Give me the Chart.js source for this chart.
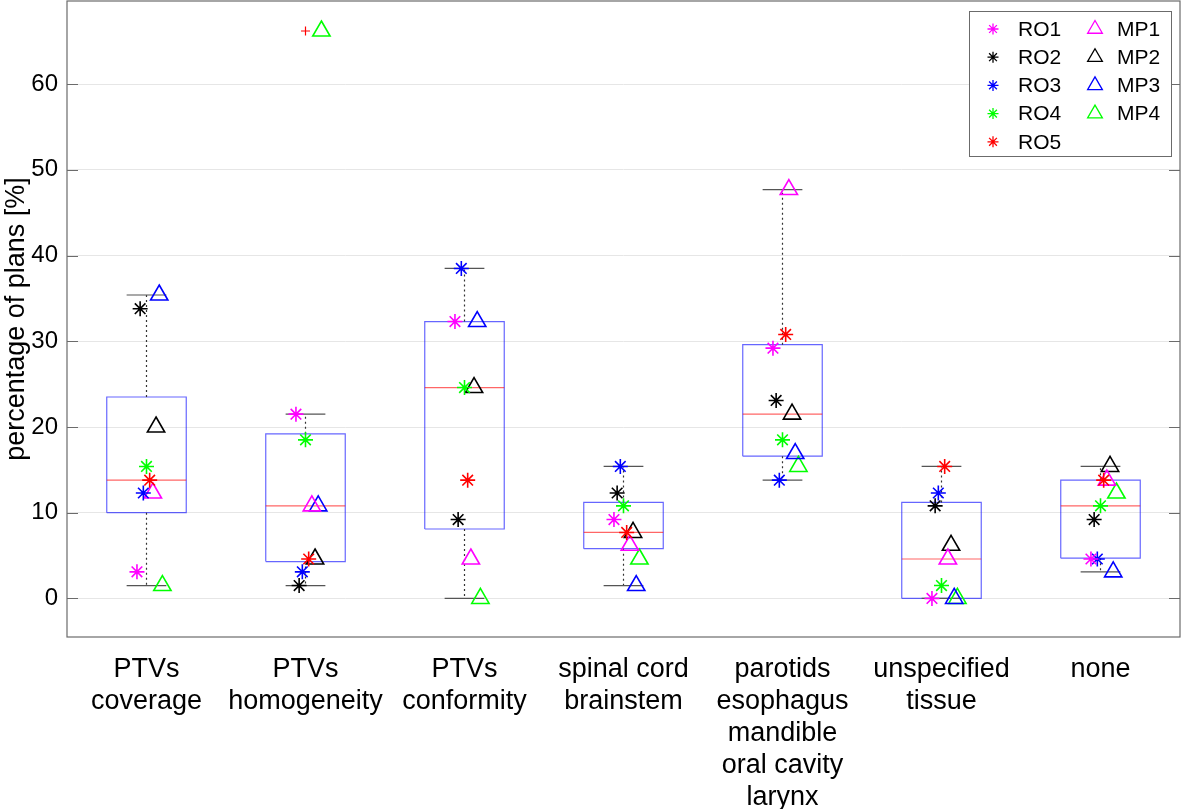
<!DOCTYPE html>
<html>
<head>
<meta charset="utf-8">
<script src="https://cdn.jsdelivr.net/npm/chart.js@4.4.1/dist/chart.umd.min.js"></script>
<style>
  html, body { margin: 0; padding: 0; background: #fff; }
  #wrap { width: 1181px; height: 809px; position: relative; }
</style>
</head>
<body>
<div id="wrap"><canvas id="planChart"></canvas></div>
<script>
// categories (multi-line tick labels)
const categories = [
    ['PTVs', 'coverage'],
    ['PTVs', 'homogeneity'],
    ['PTVs', 'conformity'],
    ['spinal cord', 'brainstem'],
    ['parotids', 'esophagus', 'mandible', 'oral cavity', 'larynx'],
    ['unspecified', 'tissue'],
    ['none']
];
const yTicks = [0, 10, 20, 30, 40, 50, 60];

// percentage of plans per observer, one value per category
const RO1 = [3.1, 21.5, 32.3, 9.2, 29.2, 0.0, 4.6];
const RO2 = [33.8, 1.5, 9.2, 12.3, 23.1, 10.8, 9.2];
const RO3 = [12.3, 3.1, 38.5, 15.4, 13.8, 12.3, 4.6];
const RO4 = [15.4, 18.5, 24.6, 10.8, 18.5, 1.5, 10.8];
const RO5 = [13.8, 4.6, 13.8, 7.7, 30.8, 15.4, 13.8];
const MP1 = [12.3, 10.8, 4.6, 6.2, 47.7, 4.6, 13.8];
const MP2 = [20.0, 4.6, 24.6, 7.7, 21.5, 6.2, 15.4];
const MP3 = [35.4, 10.8, 32.3, 1.5, 16.9, 0.0, 3.1];
const MP4 = [1.5, 66.2, 0.0, 4.6, 15.4, 0.0, 12.3];

// box plot statistics per category
const boxQ1 = [10.0, 4.3, 8.1, 5.8, 16.6, 0.0, 4.7];
const boxMedian = [13.8, 10.8, 24.6, 7.7, 21.5, 4.6, 10.8];
const boxQ3 = [23.5, 19.2, 32.3, 11.2, 29.6, 11.2, 13.8];
const whiskerLow = [1.5, 1.5, 0.0, 1.5, 13.8, 0.0, 3.1];
const whiskerHigh = [35.4, 21.5, 38.5, 15.4, 47.7, 15.4, 15.4];
const outlierCat = [2];
const outlierVal = [66.2];

const FONT = '"Liberation Sans", Arial, Helvetica, sans-serif';
Chart.defaults.font.family = FONT;
Chart.defaults.color = '#000';

// series setup: name, values, colour, marker, x jitter
const series = [
    ['RO1', RO1, '#ff00ff', 'star', -0.06],
    ['RO2', RO2, '#000000', 'star', -0.04],
    ['RO3', RO3, '#0000ff', 'star', -0.02],
    ['RO4', RO4, '#00ff00', 'star', 0.00],
    ['RO5', RO5, '#ff0000', 'star', 0.02],
    ['MP1', MP1, '#ff00ff', 'triangle', 0.04],
    ['MP2', MP2, '#000000', 'triangle', 0.06],
    ['MP3', MP3, '#0000ff', 'triangle', 0.08],
    ['MP4', MP4, '#00ff00', 'triangle', 0.10]
];

const pointSets = series.map(([name, vals, color, marker, dx]) => ({
    label: name,
    data: vals.map((v, i) => ({ x: i + 1 + dx, y: v })),
    pointStyle: marker,
    pointRadius: marker === 'star' ? 7.5 : 10,
    pointBorderWidth: 1.6,
    borderColor: color,
    pointBorderColor: color,
    backgroundColor: 'rgba(0,0,0,0)',
    pointBackgroundColor: 'rgba(0,0,0,0)',
    showLine: false
}));

// helpers to build line segments from the box statistics
const gap = i => ({ x: i, y: null });
const boxPath = [], medianPath = [], whiskerPath = [], capPath = [];
categories.forEach((c, k) => {
    const i = k + 1;
    boxPath.push({ x: i - 0.25, y: boxQ1[k] }, { x: i + 0.25, y: boxQ1[k] },
        { x: i + 0.25, y: boxQ3[k] }, { x: i - 0.25, y: boxQ3[k] },
        { x: i - 0.25, y: boxQ1[k] }, gap(i));
    medianPath.push({ x: i - 0.25, y: boxMedian[k] }, { x: i + 0.25, y: boxMedian[k] }, gap(i));
    whiskerPath.push({ x: i, y: boxQ3[k] }, { x: i, y: whiskerHigh[k] }, gap(i),
        { x: i, y: boxQ1[k] }, { x: i, y: whiskerLow[k] }, gap(i));
    capPath.push({ x: i - 0.125, y: whiskerHigh[k] }, { x: i + 0.125, y: whiskerHigh[k] }, gap(i),
        { x: i - 0.125, y: whiskerLow[k] }, { x: i + 0.125, y: whiskerLow[k] }, gap(i));
});

const lineSet = (data, color, dash) => ({
    data: data,
    showLine: true,
    spanGaps: false,
    borderColor: color,
    borderWidth: 1.2,
    borderDash: dash || [],
    pointRadius: 0,
    pointHoverRadius: 0,
    fill: false
});

const outlierSet = {
    data: outlierCat.map((c, k) => ({ x: c, y: outlierVal[k] })),
    pointStyle: 'cross',
    pointRadius: 4.5,
    pointBorderWidth: 1.2,
    pointBorderColor: '#ff0000',
    showLine: false
};

// frame around the plot with inward ticks
const framePlugin = {
    id: 'frame',
    afterDraw(chart) {
        const { ctx, chartArea: a, scales } = chart;
        ctx.save();
        ctx.strokeStyle = '#6b6b6b';
        ctx.lineWidth = 1.2;
        ctx.strokeRect(a.left, a.top, a.right - a.left, a.bottom - a.top);
        ctx.beginPath();
        yTicks.forEach(v => {
            const y = Math.round(scales.y.getPixelForValue(v)) + 0.5;
            ctx.moveTo(a.left, y); ctx.lineTo(a.left + 11, y);
            ctx.moveTo(a.right, y); ctx.lineTo(a.right - 11, y);
        });
        ctx.stroke();
        ctx.restore();
    }
};

// two-column legend box in the top-right corner
const legendPlugin = {
    id: 'boxLegend',
    afterDraw(chart) {
        const { ctx, chartArea: a } = chart;
        const left = a.right - 211, top = a.top + 10;
        ctx.save();
        ctx.fillStyle = '#fff';
        ctx.fillRect(left, top, 202, 145);
        ctx.strokeStyle = '#6b6b6b';
        ctx.lineWidth = 1;
        ctx.strokeRect(left + 0.5, top + 0.5, 202, 145);
        ctx.font = '21px ' + FONT;
        ctx.textBaseline = 'middle';
        series.forEach(([name, vals, color, marker], k) => {
            const col = k < 5 ? 0 : 1;
            const row = k < 5 ? k : k - 5;
            const mx = left + (col ? 126 : 24);
            const my = top + 18 + row * 28.2;
            ctx.strokeStyle = color;
            ctx.lineWidth = 1.3;
            ctx.beginPath();
            if (marker === 'star') {
                const r = 5.5;
                ctx.moveTo(mx - r, my); ctx.lineTo(mx + r, my);
                ctx.moveTo(mx, my - r); ctx.lineTo(mx, my + r);
                const d = r * 0.707;
                ctx.moveTo(mx - d, my - d); ctx.lineTo(mx + d, my + d);
                ctx.moveTo(mx - d, my + d); ctx.lineTo(mx + d, my - d);
            } else {
                const r = 8.5;
                ctx.moveTo(mx, my - r);
                ctx.lineTo(mx + r * 0.866, my + r * 0.5);
                ctx.lineTo(mx - r * 0.866, my + r * 0.5);
                ctx.closePath();
            }
            ctx.stroke();
            ctx.fillStyle = '#000';
            ctx.fillText(name, mx + (col ? 22 : 25), my + 1);
        });
        ctx.restore();
    }
};

const ctx = document.getElementById('planChart').getContext('2d');
const planChart = new Chart(ctx, {
    type: 'scatter',
    data: {
        datasets: [
            ...pointSets,
            outlierSet,
            lineSet(capPath, '#555555'),
            lineSet(whiskerPath, '#333333', [2, 3]),
            lineSet(medianPath, 'rgba(255,0,0,0.6)'),
            lineSet(boxPath, 'rgba(0,0,255,0.6)')
        ]
    },
    options: {
        responsive: true,
        maintainAspectRatio: false,
        animation: false,
        devicePixelRatio: 1,
        layout: { autoPadding: false, padding: { left: 0, right: 1, top: 1, bottom: 0 } },
        plugins: {
            legend: { display: false },
            tooltip: { enabled: false }
        },
        scales: {
            x: {
                type: 'linear',
                min: 0.5,
                max: 7.5,
                afterBuildTicks: axis => { axis.ticks = categories.map((c, i) => ({ value: i + 1 })); },
                afterFit: axis => {
                    axis.height = 172;
                    axis.paddingLeft = 0;
                    axis.paddingRight = 0;
                },
                grid: { display: false, drawTicks: false },
                border: { display: false },
                ticks: {
                    autoSkip: false,
                    maxRotation: 0,
                    padding: 17,
                    font: { size: 27, lineHeight: 1.18 },
                    callback: v => categories[Math.round(v) - 1] || ''
                }
            },
            y: {
                min: -4.5,
                max: 69.7,
                afterBuildTicks: axis => { axis.ticks = yTicks.map(v => ({ value: v })); },
                afterFit: axis => {
                    axis.width = 67;
                    axis.paddingTop = 0;
                    axis.paddingBottom = 0;
                },
                grid: { color: '#e6e6e6', lineWidth: 1, drawTicks: false },
                border: { display: false },
                ticks: { padding: 9, font: { size: 24 } },
                title: {
                    display: true,
                    text: 'percentage of plans [%]',
                    font: { size: 27 },
                    padding: { top: 0, bottom: 0 }
                }
            }
        }
    },
    plugins: [framePlugin, legendPlugin]
});
</script>
</body>
</html>
